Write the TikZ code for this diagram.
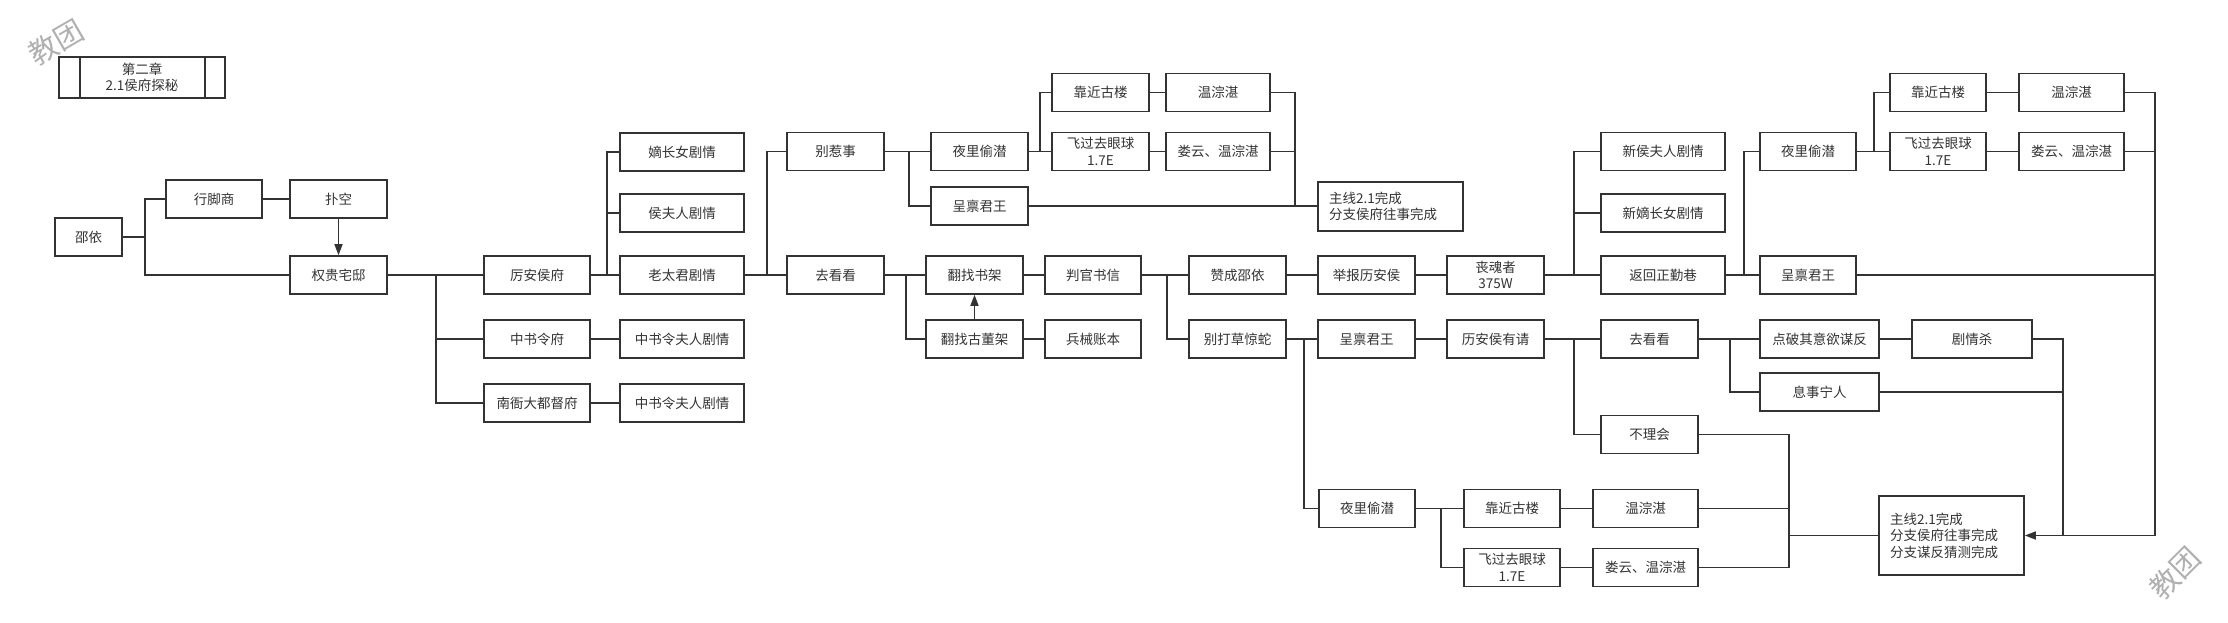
\documentclass[tikz,border=0pt]{standalone}
\usepackage{fontspec}
\setmainfont{Noto Sans CJK SC}
\usetikzlibrary{arrows.meta,calc}
\definecolor{ln}{HTML}{333333}
\definecolor{wm}{HTML}{B0B0B0}
\begin{document}
\begin{tikzpicture}[x=1pt,y=-1pt,
  box/.style={draw=ln, line width=1.6pt, fill=white, text=ln, inner sep=0pt,
    minimum height=38pt, align=center, font=\fontsize{13.5}{16.5}\selectfont},
  mw/.style={minimum width=#1},
  endbox/.style={box, align=left, text width=123pt, minimum width=145pt},
  conn/.style={draw=ln, line width=1.6pt},
  arr/.style={conn, -{Triangle[length=11pt,width=8pt]}},
  wmark/.style={text=wm, font=\fontsize{29}{29}\selectfont, inner sep=0pt}]
\useasboundingbox (0,0) rectangle (2228,622);

% watermarks
\node[wmark, rotate=30] (wm1) at (56,42) {教团};
\node[wmark, rotate=45] (wm2) at (2175,573) {教团};

% title
\node[box, mw=166pt, minimum height=41pt] (title) at (142,77.5) {第二章\\2.1侯府探秘};
\draw[conn] ([xshift=22pt]title.north west) -- ([xshift=22pt]title.south west);
\draw[conn] ([xshift=-21pt]title.north east) -- ([xshift=-21pt]title.south east);

% nodes
\node[box, mw=67pt]  (shaoyi)   at (88.5,237) {邵依};
\node[box, mw=96pt]  (xingjiao) at (214,199) {行脚商};
\node[box, mw=97pt]  (pukong)   at (338.5,199) {扑空};
\node[box, mw=97pt]  (quangui)  at (338.5,275) {权贵宅邸};
\node[box, mw=106pt] (liananhou) at (537,275) {厉安侯府};
\node[box, mw=106pt] (zhongshuling) at (537,339) {中书令府};
\node[box, mw=106pt] (nanya) at (537,403) {南衙大都督府};
\node[box, mw=124pt] (dizhang) at (682,152) {嫡长女剧情};
\node[box, mw=124pt] (houfuren) at (682,213) {侯夫人剧情};
\node[box, mw=124pt] (laotaijun) at (682,275) {老太君剧情};
\node[box, mw=124pt] (zsfr1) at (682,339) {中书令夫人剧情};
\node[box, mw=124pt] (zsfr2) at (682,403) {中书令夫人剧情};

\node[box, mw=97pt] (biereshi) at (835.5,151.5) {别惹事};
\node[box, mw=97pt] (yeli1) at (979.5,151.5) {夜里偷潜};
\node[box, mw=97pt] (kaojin1) at (1100.5,92.5) {靠近古楼};
\node[box, mw=104pt] (wen1) at (1218,92.5) {温淙湛};
\node[box, mw=97pt] (feiguo1) at (1100.5,151.5) {飞过去眼球\\1.7E};
\node[box, mw=104pt] (louyun1) at (1218,151.5) {娄云、温淙湛};
\node[box, mw=97pt] (chengbing1) at (979.5,206) {呈禀君王};
\node[endbox, minimum height=49pt] (end1) at (1390.5,206.5) {主线2.1完成\\分支侯府往事完成};

\node[box, mw=97pt] (qukankan1) at (835.5,275) {去看看};
\node[box, mw=97pt] (fanzhaoshujia) at (974.5,275) {翻找书架};
\node[box, mw=97pt] (fanzhaogudong) at (974.5,339) {翻找古董架};
\node[box, mw=96pt] (panguan) at (1093,275) {判官书信};
\node[box, mw=96pt] (bingxie) at (1093,339) {兵械账本};
\node[box, mw=97pt] (zancheng) at (1237.5,275) {赞成邵依};
\node[box, mw=97pt] (bieda) at (1237.5,339) {别打草惊蛇};
\node[box, mw=97pt] (jubao) at (1366.5,275) {举报历安侯};
\node[box, mw=97pt] (sanghun) at (1495.5,275) {丧魂者\\375W};
\node[box, mw=124pt] (xinhoufuren) at (1663,151.5) {新侯夫人剧情};
\node[box, mw=124pt] (xindizhang) at (1663,213) {新嫡长女剧情};
\node[box, mw=124pt] (fanhui) at (1663,275) {返回正勤巷};
\node[box, mw=96pt] (yeli2) at (1808,151.5) {夜里偷潜};
\node[box, mw=96pt] (kaojin2) at (1938,92.5) {靠近古楼};
\node[box, mw=105pt] (wen2) at (2071.5,92.5) {温淙湛};
\node[box, mw=96pt] (feiguo2) at (1938,151.5) {飞过去眼球\\1.7E};
\node[box, mw=105pt] (louyun2) at (2071.5,151.5) {娄云、温淙湛};
\node[box, mw=96pt] (chengbing3) at (1808,275) {呈禀君王};

\node[box, mw=97pt] (chengbing2) at (1366.5,339) {呈禀君王};
\node[box, mw=97pt] (liananyouqing) at (1495.5,339) {历安侯有请};
\node[box, mw=97pt] (qukankan2) at (1649.5,339) {去看看};
\node[box, mw=119pt] (dianpo) at (1819.5,339) {点破其意欲谋反};
\node[box, mw=120pt] (juqingsha) at (1972,339) {剧情杀};
\node[box, mw=119pt] (xishi) at (1819.5,392) {息事宁人};
\node[box, mw=97pt] (buli) at (1649.5,434.5) {不理会};
\node[box, mw=96pt] (yeli3) at (1367,508.5) {夜里偷潜};
\node[box, mw=96pt] (kaojin3) at (1512,508.5) {靠近古楼};
\node[box, mw=105pt] (wen3) at (1645.5,508.5) {温淙湛};
\node[box, mw=96pt] (feiguo3) at (1512,567.5) {飞过去眼球\\1.7E};
\node[box, mw=105pt] (louyun3) at (1645.5,567.5) {娄云、温淙湛};
\node[endbox, minimum height=79pt] (end2) at (1951.5,535.5) {主线2.1完成\\分支侯府往事完成\\分支谋反猜测完成};

% connectors
\draw[conn] (shaoyi.east) -- ++(22,0) |- (xingjiao.west);
\draw[conn] (shaoyi.east) -- ++(22,0) |- (quangui.west);
\draw[conn] (xingjiao) -- (pukong);
\draw[arr] (pukong) -- (quangui);
\draw[conn] (quangui.east) -- ++(48,0) |- (liananhou.west);
\draw[conn] (quangui.east) -- ++(48,0) |- (zhongshuling.west);
\draw[conn] (quangui.east) -- ++(48,0) |- (nanya.west);
\draw[conn] (liananhou.east) -- ++(16,0) |- (dizhang.west);
\draw[conn] (liananhou.east) -- ++(16,0) |- (houfuren.west);
\draw[conn] (liananhou.east) -- ++(16,0) |- (laotaijun.west);
\draw[conn] (zhongshuling) -- (zsfr1);
\draw[conn] (nanya) -- (zsfr2);
\draw[conn] (laotaijun.east) -- ++(22,0) |- (biereshi.west);
\draw[conn] (laotaijun.east) -- ++(22,0) |- (qukankan1.west);
\draw[conn] (biereshi.east) -- ++(24,0) |- (yeli1.west);
\draw[conn] (biereshi.east) -- ++(24,0) |- (chengbing1.west);
\draw[conn] (yeli1.east) -- ++(11,0) |- (kaojin1.west);
\draw[conn] (yeli1.east) -- ++(11,0) |- (feiguo1.west);
\draw[conn] (kaojin1) -- (wen1);
\draw[conn] (feiguo1) -- (louyun1);
\draw[conn] (wen1.east) -- ++(24,0) |- (end1.west);
\draw[conn] (louyun1.east) -- ++(24,0);
\draw[conn] (chengbing1.east) -- (chengbing1.east -| end1.west);
\draw[conn] (qukankan1.east) -- ++(21,0) |- (fanzhaoshujia.west);
\draw[conn] (qukankan1.east) -- ++(21,0) |- (fanzhaogudong.west);
\draw[arr] (fanzhaogudong) -- (fanzhaoshujia);
\draw[conn] (fanzhaoshujia) -- (panguan);
\draw[conn] (fanzhaogudong) -- (bingxie);
\draw[conn] (panguan.east) -- ++(25,0) |- (zancheng.west);
\draw[conn] (panguan.east) -- ++(25,0) |- (bieda.west);
\draw[conn] (zancheng) -- (jubao);
\draw[conn] (jubao) -- (sanghun);
\draw[conn] (sanghun.east) -- ++(29,0) |- (xinhoufuren.west);
\draw[conn] (sanghun.east) -- ++(29,0) |- (xindizhang.west);
\draw[conn] (sanghun.east) -- ++(29,0) |- (fanhui.west);
\draw[conn] (fanhui.east) -- ++(18,0) |- (yeli2.west);
\draw[conn] (fanhui.east) -- ++(18,0) |- (chengbing3.west);
\draw[conn] (yeli2.east) -- ++(17,0) |- (kaojin2.west);
\draw[conn] (yeli2.east) -- ++(17,0) |- (feiguo2.west);
\draw[conn] (kaojin2) -- (wen2);
\draw[conn] (feiguo2) -- (louyun2);
\coordinate (mR) at (2155,0);
\coordinate (mM) at (2063,0);
\coordinate (mL) at (1789,0);
\draw[conn] (wen2.east) -| (mR |- end2.east);
\draw[conn] (louyun2.east) -- (louyun2.east -| mR);
\draw[conn] (chengbing3.east) -- (chengbing3.east -| mR);
\draw[arr] (mR |- end2.east) -- (end2.east);
\draw[conn] (bieda) -- (chengbing2);
\draw[conn] (bieda.east) -- ++(17,0) |- (yeli3.west);
\draw[conn] (chengbing2) -- (liananyouqing);
\draw[conn] (liananyouqing.east) -- ++(29,0) |- (qukankan2.west);
\draw[conn] (liananyouqing.east) -- ++(29,0) |- (buli.west);
\draw[conn] (qukankan2.east) -- ++(31,0) |- (dianpo.west);
\draw[conn] (qukankan2.east) -- ++(31,0) |- (xishi.west);
\draw[conn] (dianpo) -- (juqingsha);
\draw[conn] (juqingsha.east) -| (mM |- end2.east);
\draw[conn] (xishi.east) -- (xishi.east -| mM);
\draw[conn] (buli.east) -| (mL |- end2.west);
\draw[conn] (louyun3.east) -| (mL |- end2.west);
\draw[conn] (wen3.east) -- (wen3.east -| mL);
\draw[conn] (mL |- end2.west) -- (end2.west);
\draw[conn] (yeli3.east) -- ++(25,0) |- (kaojin3.west);
\draw[conn] (yeli3.east) -- ++(25,0) |- (feiguo3.west);
\draw[conn] (kaojin3) -- (wen3);
\draw[conn] (feiguo3) -- (louyun3);
\end{tikzpicture}
\end{document}
